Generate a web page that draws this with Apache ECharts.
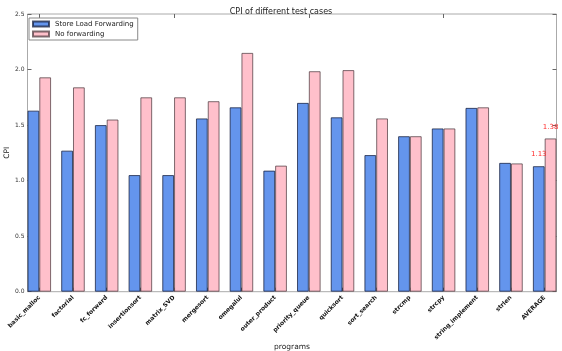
<!DOCTYPE html>
<html>
<head>
<meta charset="utf-8">
<script src="https://cdn.jsdelivr.net/npm/echarts@6/dist/echarts.min.js"></script>
<style>html,body{margin:0;padding:0;background:#fff;}#c{width:562px;height:351px;}</style>
</head>
<body>
<div id="c"></div>
<script>
const categories = ['basic_malloc','factorial','fc_forward','insertionsort','matrix_SVD','mergesort','omegalul','outer_product','priority_queue','quicksort','sort_search','strcmp','strcpy','string_implement','strlen','AVERAGE'];
const storeLoadForwarding = [1.63,1.27,1.50,1.05,1.05,1.56,1.66,1.09,1.70,1.57,1.23,1.40,1.47,1.655,1.16,1.13];
const noForwarding = [1.93,1.84,1.55,1.75,1.75,1.715,2.15,1.135,1.985,1.995,1.56,1.40,1.47,1.66,1.155,1.38];
const yTicks = [0.0,0.5,1.0,1.5,2.0,2.5];
const seriesNames = ['Store Load Forwarding','No forwarding'];
const labelledCategory = 'AVERAGE';

const FONT = 'DejaVu Sans';
const chart = echarts.init(document.getElementById('c'), null, {renderer:'canvas'});

const valueLabel = {
  show:true, position:'top', distance:8, color:'#ff2a2a', fontSize:7, fontFamily:FONT,
  textBorderWidth:0, textShadowBlur:0,
  formatter:(p)=> p.name===labelledCategory ? Number(p.value).toFixed(2) : ''
};

const tickStyle = {show:true, inside:true, length:4, lineStyle:{color:'#666', width:1}};

chart.setOption({
  animation:false,
  backgroundColor:'#fff',
  title:{text:'CPI of different test cases', left:'center', top:3, textStyle:{fontFamily:FONT, fontSize:8, fontWeight:'normal', color:'#222'}},
  legend:{
    data:seriesNames, orient:'vertical', left:29, top:18,
    borderColor:'#888', borderWidth:1, borderRadius:0, padding:[2,4,2,3], itemGap:2,
    itemWidth:16, itemHeight:5, icon:'rect',
    textStyle:{fontFamily:FONT, fontSize:7, color:'#222', lineHeight:8, padding:[0,0,0,1]}
  },
  grid:[
    {left:22.45, right:0.5, top:14, bottom:59.3, containLabel:false, outerBoundsMode:'none'},
    {left:27.5, right:5.5, top:14, bottom:59.3, containLabel:false, outerBoundsMode:'none', show:true, borderColor:'#aaa', borderWidth:1, backgroundColor:'transparent'}
  ],
  xAxis:[
    {type:'category', gridIndex:0, data:categories, boundaryGap:true, position:'bottom',
     axisLine:{show:false}, axisTick:Object.assign({alignWithLabel:true}, tickStyle),
     axisLabel:{interval:0, rotate:45, margin:5, fontFamily:FONT, fontSize:6, fontWeight:'bold', color:'#111'},
     name:'programs', nameLocation:'middle', nameGap:51, nameMoveOverlap:false, nameTextStyle:{fontFamily:FONT, fontSize:7.5, color:'#222'}},
    {type:'category', gridIndex:0, data:categories, boundaryGap:true, position:'top',
     axisLine:{show:false}, axisTick:Object.assign({alignWithLabel:true}, tickStyle), axisLabel:{show:false}},
    {type:'value', gridIndex:1, min:0, max:1, show:false}
  ],
  yAxis:[
    {type:'value', gridIndex:0, min:0, max:2.5, show:false},
    {type:'value', gridIndex:1, min:0, max:2.5, interval:0.5, position:'left',
     axisLine:{show:false}, axisTick:tickStyle, splitLine:{show:false},
     axisLabel:{show:true, margin:3, fontFamily:FONT, fontSize:6, color:'#333', hideOverlap:false, formatter:(v)=>Number(v).toFixed(1)},
     name:'CPI', nameLocation:'middle', nameGap:16, nameMoveOverlap:false, nameRotate:90, nameTextStyle:{fontFamily:FONT, fontSize:7.5, color:'#222'}},
    {type:'value', gridIndex:1, min:0, max:2.5, interval:0.5, position:'right',
     axisLine:{show:false}, axisTick:tickStyle, splitLine:{show:false}, axisLabel:{show:false}}
  ],
  series:[
    {name:seriesNames[0], type:'bar', xAxisIndex:0, yAxisIndex:0, zlevel:1, data:storeLoadForwarding,
     barWidth:'35%', barGap:'0%', label:valueLabel, labelLayout:{hideOverlap:false},
     itemStyle:{color:'#6495ED', borderColor:'rgba(20,30,60,0.75)', borderWidth:1}},
    {name:seriesNames[1], type:'bar', xAxisIndex:0, yAxisIndex:0, data:noForwarding,
     barWidth:'35%', barGap:'0%', label:valueLabel, labelLayout:{hideOverlap:false},
     itemStyle:{color:'#FFC0CB', borderColor:'rgba(70,50,55,0.7)', borderWidth:1}}
  ]
});
</script>
</body>
</html>
